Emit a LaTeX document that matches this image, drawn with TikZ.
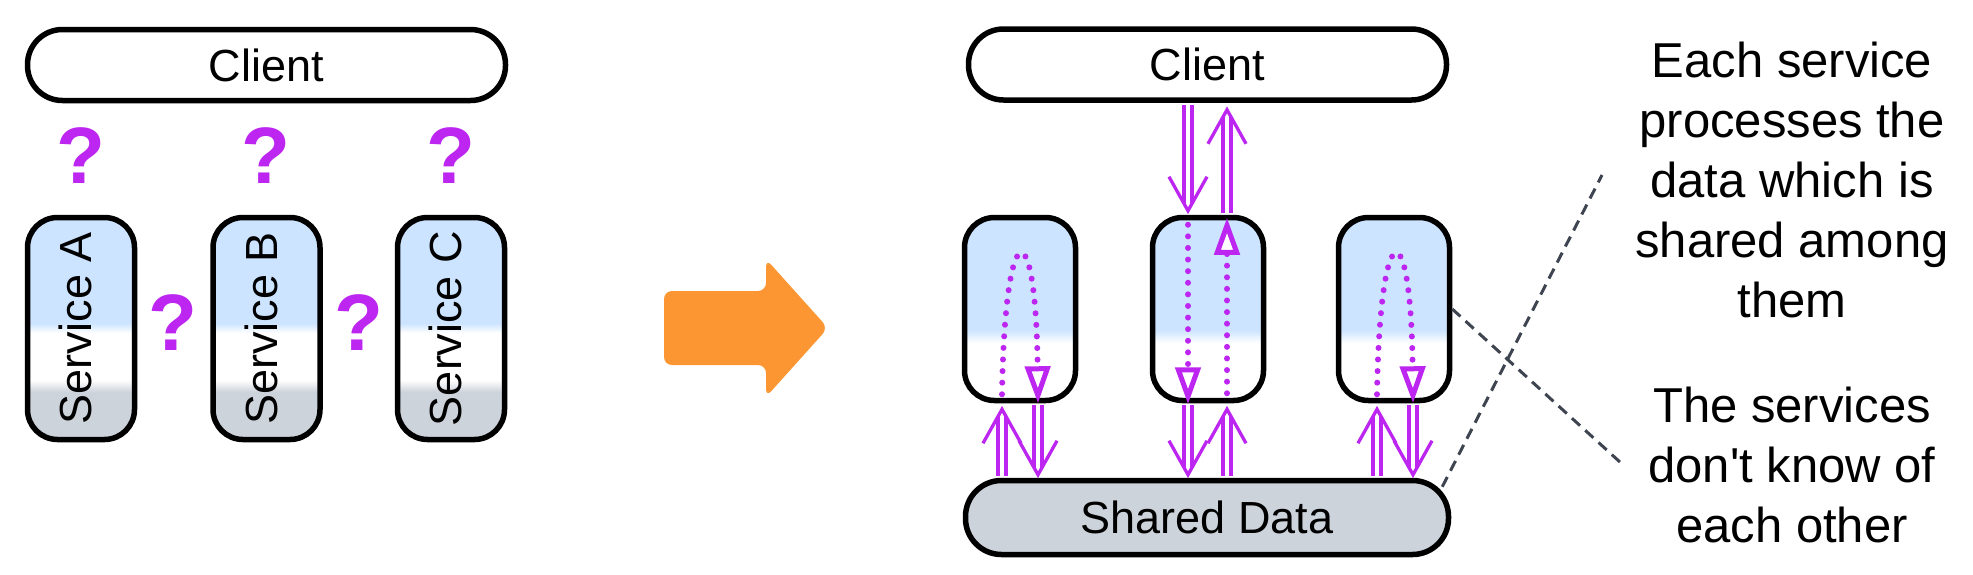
\documentclass[tikz,border=0pt]{standalone}
\usepackage{fontspec}
\setmainfont{Liberation Sans}
\newfontfamily\notefont{Liberation Sans}
\usetikzlibrary{arrows.meta,calc}
\definecolor{qpurple}{RGB}{188,38,240}
\definecolor{svcblue}{RGB}{204,228,255}
\definecolor{svcgray}{RGB}{205,211,219}
\definecolor{arrorange}{RGB}{251,150,51}
\definecolor{dashgray}{RGB}{62,68,80}
\pgfdeclareverticalshading{svcL}{100bp}{color(0bp)=(svcgray); color(35.7bp)=(svcgray); color(38.4bp)=(white); color(49bp)=(white); color(51.2bp)=(svcblue); color(100bp)=(svcblue)}
\pgfdeclareverticalshading{svcR}{100bp}{color(0bp)=(white); color(40.7bp)=(white); color(44.3bp)=(svcblue); color(100bp)=(svcblue)}
\newcommand\dblarrow[2]{%
  \draw[dblshaft] (#1) -- (#2);
  \draw[dblhead] ($(#2)!39pt!29.2:(#1)$) -- (#2) -- ($(#2)!39pt!-29.2:(#1)$);
}
\begin{document}
\begin{tikzpicture}[x=1pt,y=-1pt,
  box/.style={draw=black, line width=5.5pt, inner sep=0pt},
  pill/.style={box, fill=white, rounded corners=35pt, minimum width=478pt, minimum height=71pt, font=\fontsize{45}{54}\selectfont},
  svcl/.style={box, shading=svcL, rounded corners=30pt, minimum width=107pt, minimum height=222pt, font=\fontsize{45}{54}\selectfont},
  svcr/.style={box, shading=svcR, rounded corners=30pt, minimum width=111pt, minimum height=183pt},
  shared/.style={box, fill=svcgray, rounded corners=36pt, minimum width=483pt, minimum height=74pt, font=\fontsize{45}{54}\selectfont},
  qmark/.style={text=qpurple, font=\fontsize{80}{90}\selectfont\bfseries, inner sep=0pt},
  note/.style={align=center, font=\notefont\fontsize{49}{60}\selectfont, inner sep=0pt},
  dblshaft/.style={draw=qpurple, line width=3.3pt, double=white, double distance=4.7pt, shorten >=7pt},
  dblhead/.style={draw=qpurple, line width=3.3pt},
  dots/.style={draw=qpurple, line width=6pt, line cap=round, dash pattern=on 0pt off 11.6pt, -{Triangle[fill=white, length=37pt, width=25pt, line width=5pt]}},
  dashline/.style={draw=dashgray, line width=3pt, dash pattern=on 11pt off 7pt}
]
\useasboundingbox (0,0) rectangle (1973,574);

% ---------- left part ----------
\node[pill] (c1) at (266.5,65) {Client};
\node[svcl] (s1) at (81,328.5) {\rotatebox{90}{\strut Service A}};
\node[svcl] (s2) at (266.5,328.5) {\rotatebox{90}{\strut Service B}};
\node[svcl] (s3) at (451,328.5) {\rotatebox{90}{\strut Service C}};
\node[qmark] (q1) at (81,156) {?};
\node[qmark] (q2) at (266,156) {?};
\node[qmark] (q3) at (451,156) {?};
\node[qmark] (q4) at (173,323) {?};
\node[qmark] (q5) at (359,323) {?};

% ---------- big orange arrow ----------
\fill[arrorange, rounded corners=8pt] (664,291) -- (766,291) -- (766,259) -- (828,328) -- (766,397) -- (766,365) -- (664,365) -- cycle;

% ---------- right part ----------
\node[pill] (c2) at (1207.5,64.5) {Client};
\node[svcr] (s4) at (1020,309) {};
\node[svcr] (s5) at (1208,309) {};
\node[svcr] (s6) at (1394,309) {};
\node[shared] (sd) at (1207,517.5) {Shared Data};

% double arrows
\coordinate (a1s) at ($(s5.north |- c2.south)+(-20,2)$);
\coordinate (a1e) at ($(s5.north)+(-20,-4)$);
\coordinate (a2s) at ($(s5.north)+(19,-2)$);
\coordinate (a2e) at ($(s5.north |- c2.south)+(19,7)$);
\coordinate (b1s) at ($(s4.south |- sd.north)+(-18,-2)$);
\coordinate (b1e) at ($(s4.south)+(-18,6)$);
\coordinate (b2s) at ($(s4.south)+(18,2)$);
\coordinate (b2e) at ($(s4.south |- sd.north)+(18,-3)$);
\coordinate (c1s) at ($(s5.south)+(-20,2)$);
\coordinate (c1e) at ($(s5.south |- sd.north)+(-20,-3)$);
\coordinate (c2s) at ($(s5.south |- sd.north)+(19,-2)$);
\coordinate (c2e) at ($(s5.south)+(19,6)$);
\coordinate (d1s) at ($(s6.south |- sd.north)+(-17,-2)$);
\coordinate (d1e) at ($(s6.south)+(-17,6)$);
\coordinate (d2s) at ($(s6.south)+(19,2)$);
\coordinate (d2e) at ($(s6.south |- sd.north)+(19,-3)$);
\dblarrow{a1s}{a1e}
\dblarrow{a2s}{a2e}
\dblarrow{b1s}{b1e}
\dblarrow{b2s}{b2e}
\dblarrow{c1s}{c1e}
\dblarrow{c2s}{c2e}
\dblarrow{d1s}{d1e}
\dblarrow{d2s}{d2e}

% dotted flows inside services
\draw[dots] ($(s4.south)+(-18,-9)$) .. controls ($(s4.south)+(-15,-193)$) and ($(s4.south)+(16,-193)$) .. ($(s4.south)+(18,0)$);
\draw[dots] ($(s5.north)+(-20,10)$) -- ($(s5.south)+(-20,1)$);
\draw[dots] ($(s5.south)+(19,-10)$) -- ($(s5.north)+(19,3)$);
\draw[dots] ($(s6.south)+(-17,-9)$) .. controls ($(s6.south)+(-14,-193)$) and ($(s6.south)+(17,-193)$) .. ($(s6.south)+(19,0)$);

% notes
\node[note] (t1) at (1792,180) {Each service\\processes the\\data which is\\shared among\\them};
\node[note] (t2) at (1792,465) {The services\\don't know of\\each other};
\coordinate (e1) at (1602,175);
\coordinate (e2) at (1621,463);
\draw[dashline] ($(sd.north east)+(-9,9)$) -- (e1);
\draw[dashline] (s6.east) -- (e2);
\end{tikzpicture}
\end{document}
